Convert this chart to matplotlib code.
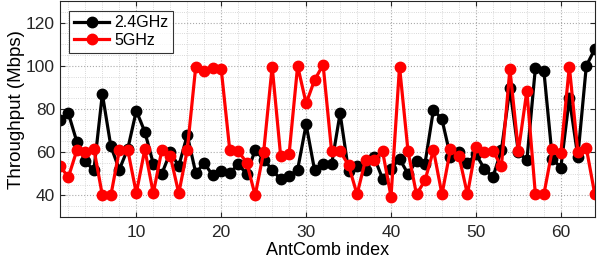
import numpy as np
import matplotlib.pyplot as plt
from matplotlib.ticker import MultipleLocator

plt.rcParams['font.family'] = ['Liberation Sans', 'DejaVu Sans']

# throughput per antenna combination (Mbps)
ant_index = np.arange(1, 65)
tput_24 = [75, 78, 64.8, 55.8, 51.6, 87, 62.8, 52, 61.7, 79.2,
           69.5, 54.7, 50, 60, 53.6, 68, 50.4, 55, 49.3, 51.2,
           50.4, 54.4, 50, 61, 56.6, 52, 47.4, 49, 52, 72.9,
           51.6, 54.7, 54.4, 78, 51.2, 53.6, 51.6, 57.8, 47.8, 52.4,
           57, 50, 56, 54.7, 79.8, 75.2, 58, 60.1, 55, 59,
           52.4, 48.5, 61, 89.6, 60, 56.3, 99, 97.7, 57, 52.9,
           85, 58, 100, 107.8]
tput_5 = [53.6, 48.5, 61, 60, 61.7, 40, 40, 61, 61, 41,
          61.4, 41, 61, 58.3, 41, 61, 99.7, 97.7, 99, 98.5,
          61.2, 60.5, 55.2, 40, 60.2, 99.7, 58.3, 59.4, 100, 82.6,
          93.5, 100.5, 60.5, 60.5, 54, 40.5, 56.6, 56.3, 60.5, 39.5,
          99.7, 60.5, 40.5, 47, 61, 40.5, 61.4, 58.3, 40.5, 62.5,
          60.2, 60.5, 53.6, 98.6, 60.5, 88.5, 40.5, 40.5, 61.4, 59.7,
          99.7, 60.2, 62, 40.5]

fig = plt.figure(figsize=(5.99, 2.70), dpi=100)
ax = fig.add_axes([0.1, 0.196, 0.893, 0.8])

ax.plot(ant_index, tput_24, '-o', color='black', lw=2.3, ms=7.5, label='2.4GHz')
ax.plot(ant_index, tput_5, '-o', color='red', lw=2.3, ms=7.5, label='5GHz')

ax.set_xlim(1, 64)
ax.set_ylim(30, 130)
ax.set_xticks([10, 20, 30, 40, 50, 60])
ax.set_yticks([40, 60, 80, 100, 120])
ax.xaxis.set_minor_locator(MultipleLocator(2))
ax.yaxis.set_minor_locator(MultipleLocator(5))
ax.grid(which='major', color='#aaaaaa', linestyle=':', linewidth=0.8)
ax.grid(which='minor', color='#cccccc', linestyle=':', linewidth=0.6)
ax.tick_params(which='both', direction='in', top=True, right=True, labelsize=12.5,
               colors='#262626')
ax.tick_params(axis='x', pad=6)
ax.tick_params(which='minor', length=0)
for s in ax.spines.values():
    s.set_color('#262626')

ax.set_xlabel('AntComb index', fontsize=13, labelpad=1)
ax.set_ylabel('Throughput (Mbps)', fontsize=13.5, labelpad=1)

leg = ax.legend(loc='upper left', fontsize=11.5, frameon=True, fancybox=False,
                edgecolor='black', handlelength=2.2, borderpad=0.3,
                labelspacing=0.15, handletextpad=0.3, borderaxespad=0.6)
leg.get_frame().set_linewidth(0.8)

fig.savefig('out.png', dpi=100)
